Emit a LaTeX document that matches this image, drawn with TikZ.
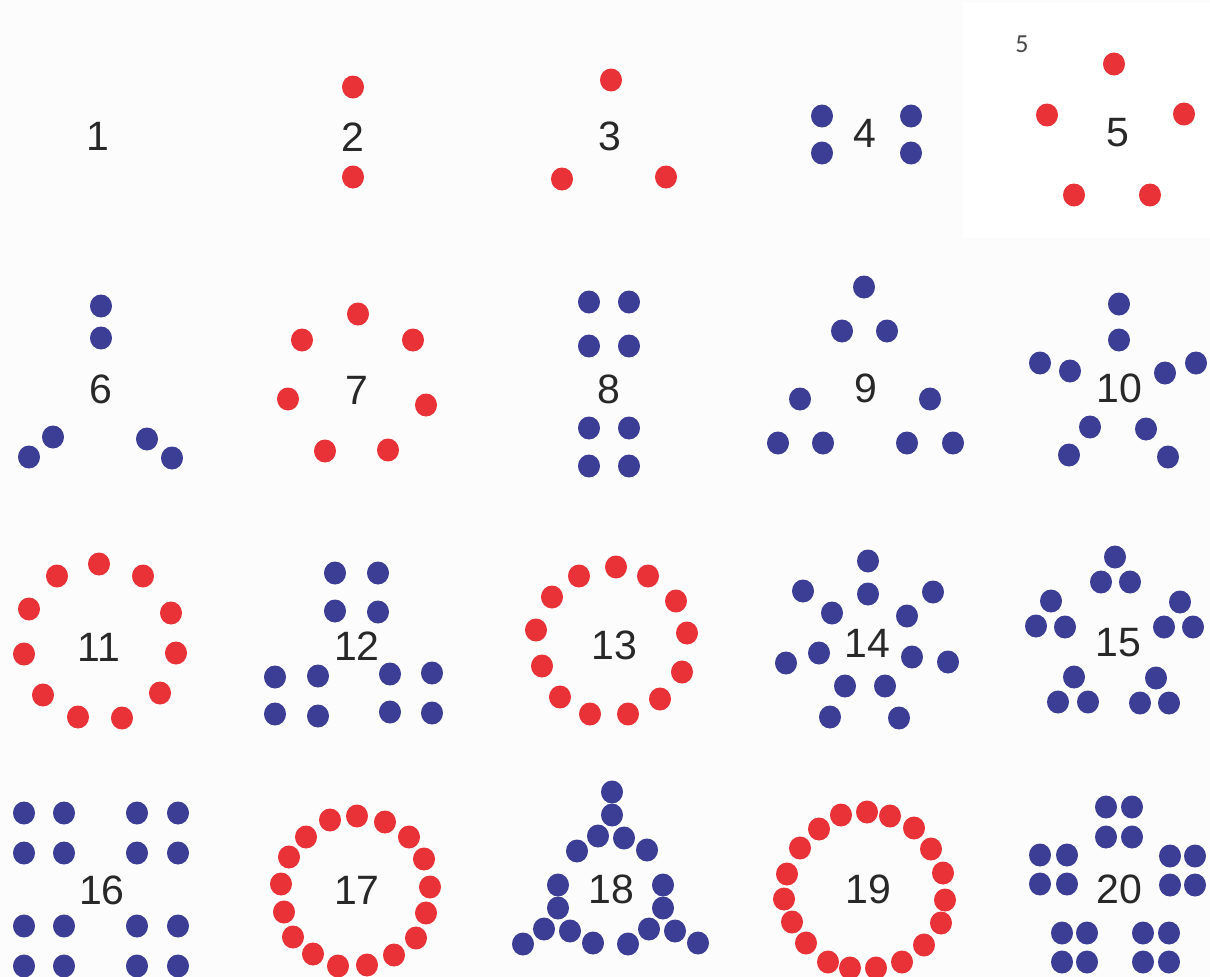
\documentclass[tikz,border=0pt]{standalone}
\usepackage{fontspec}
\setmainfont{Liberation Sans}
\newfontfamily\smallfont{Carlito}
\usetikzlibrary{shapes.geometric}
\definecolor{dotred}{RGB}{233,50,56}
\definecolor{dotblue}{RGB}{59,62,148}
\definecolor{numgray}{RGB}{40,40,40}
\definecolor{bggray}{RGB}{252,252,252}
\tikzset{
  dotbase/.style={ellipse,inner sep=0pt,minimum width=22pt,minimum height=23pt,draw=none},
  rdot/.style={dotbase,fill=dotred},
  bdot/.style={dotbase,fill=dotblue},
  num/.style={inner sep=0pt,text=numgray,font=\fontsize{41}{41}\selectfont},
}
\begin{document}
\begin{tikzpicture}[x=1pt,y=-1pt]
\useasboundingbox (0,0) rectangle (1210,977);
\fill[bggray] (0,0) rectangle (1210,977);
\fill[white] (963,3) rectangle (1210,238);
\node[inner sep=0pt,text=numgray!85,font=\smallfont\fontsize{26}{26}\selectfont] (s5) at (1022,44) {5};
% labels
\foreach \n/\x/\y in {1/98/136,2/353/137,3/610/136,4/865/133,5/1118/133,
  6/101/389,7/357/390,8/609/389,9/866/388,10/1119/388,
  11/99/647,12/357/646,13/614/645,14/867/643,15/1118/643,
  16/102/890,17/357/890,18/611/889,19/868/889,20/1119/889}
  \node[num] (l\n) at (\x,\y) {\n};
% 2
\foreach \x/\y [count=\i] in {353/87,353/177}
  \node[rdot] (a2-\i) at (\x,\y) {};
% 3
\foreach \x/\y [count=\i] in {611/80,562/179,666/177}
  \node[rdot] (a3-\i) at (\x,\y) {};
% 4
\foreach \x/\y [count=\i] in {822/116,822/153,911/116,911/153}
  \node[bdot] (a4-\i) at (\x,\y) {};
% 5
\foreach \x/\y [count=\i] in {1114/64,1047/115,1184/114,1074/195,1150/195}
  \node[rdot] (a5-\i) at (\x,\y) {};
% 6
\foreach \x/\y [count=\i] in {101/306,101/338,53/437,29/457,147/439,172/458}
  \node[bdot] (a6-\i) at (\x,\y) {};
% 7
\foreach \x/\y [count=\i] in {358/314,302/340,413/340,288/399,426/405,325/451,388/450}
  \node[rdot] (a7-\i) at (\x,\y) {};
% 8
\foreach \x/\y [count=\i] in {589/302,629/302,589/346,629/346,589/428,629/428,589/466,629/466}
  \node[bdot] (a8-\i) at (\x,\y) {};
% 9
\foreach \x/\y [count=\i] in {864/287,842/331,887/331,800/399,930/399,778/443,823/443,907/443,953/443}
  \node[bdot] (a9-\i) at (\x,\y) {};
% 10
\foreach \x/\y [count=\i] in {1119/304,1119/340,1040/363,1070/371,1165/373,1196/363,1090/427,1146/429,1069/455,1168/457}
  \node[bdot] (a10-\i) at (\x,\y) {};
% 11
\foreach \x/\y [count=\i] in {99/564,57/576,143/576,29/609,171/613,24/654,176/653,43/695,160/693,78/717,122/718}
  \node[rdot] (a11-\i) at (\x,\y) {};
% 12
\foreach \x/\y [count=\i] in {335/573,378/573,335/611,378/612,275/677,318/676,390/674,432/673,275/714,318/716,390/712,432/713}
  \node[bdot] (a12-\i) at (\x,\y) {};
% 13
\foreach \x/\y [count=\i] in {616/567,648/576,676/601,687/633,682/672,660/699,628/714,590/714,560/697,542/666,536/630,552/597,579/576}
  \node[rdot] (a13-\i) at (\x,\y) {};
% 14
\foreach \x/\y [count=\i] in {868/561,803/591,868/594,933/592,832/613,907/616,819/653,786/663,912/657,948/662,845/686,885/686,830/717,899/718}
  \node[bdot] (a14-\i) at (\x,\y) {};
% 15
\foreach \x/\y [count=\i] in {1115/557,1101/582,1130/582,1051/601,1036/626,1065/627,1180/602,1164/627,1193/627,1074/677,1058/702,1088/702,1156/678,1140/703,1169/703}
  \node[bdot] (a15-\i) at (\x,\y) {};
% 16
\foreach \x/\y [count=\i] in {24/813,64/813,137/813,178/813,24/853,64/853,137/853,178/853,24/926,64/926,137/926,178/926,24/966,64/966,137/966,178/966}
  \node[bdot] (a16-\i) at (\x,\y) {};
% 17
\foreach \x/\y [count=\i] in {357/816,330/820,385/822,306/837,409/837,289/857,424/859,281/884,430/887,284/912,426/913,293/937,416/938,313/954,394/955,338/966,367/965}
  \node[rdot] (a17-\i) at (\x,\y) {};
% 18
\foreach \x/\y [count=\i] in {612/792,612/815,598/836,577/851,624/838,647/850,
  558/885,558/908,544/929,523/944,570/931,593/943,
  663/885,663/908,649/929,628/944,675/931,698/943}
  \node[bdot] (a18-\i) at (\x,\y) {};
% 19
\foreach \x/\y [count=\i] in {867/812,841/815,890/816,819/829,914/828,800/848,931/849,787/874,943/873,784/899,945/900,792/922,941/923,806/943,924/945,828/962,902/962,850/968,876/968}
  \node[rdot] (a19-\i) at (\x,\y) {};
% 20
\foreach \x/\y [count=\i] in {1106/807,1132/807,1106/837,1132/837,1040/855,1067/855,1040/884,1067/884,1170/856,1195/856,1170/885,1195/885,1062/933,1087/933,1062/962,1087/962,1143/933,1169/933,1143/962,1169/962}
  \node[bdot] (a20-\i) at (\x,\y) {};
\end{tikzpicture}
\end{document}
